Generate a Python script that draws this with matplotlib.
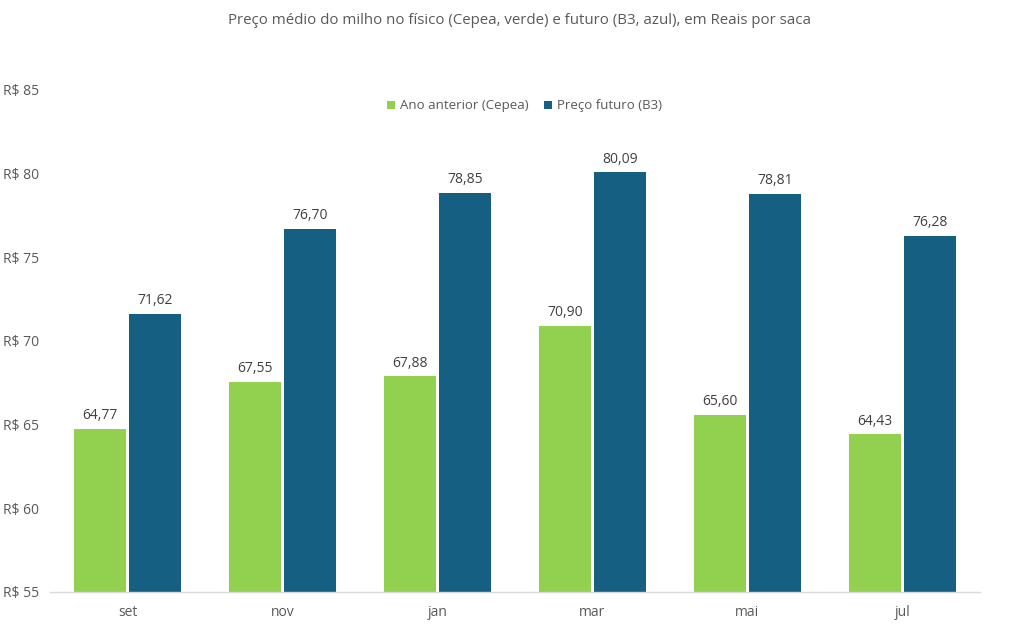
import matplotlib
matplotlib.use("Agg")
import matplotlib.pyplot as plt
import numpy as np

categories = ["set", "nov", "jan", "mar", "mai", "jul"]
cepea = [64.77, 67.55, 67.88, 70.90, 65.60, 64.43]
b3 = [71.62, 76.70, 78.85, 80.09, 78.81, 76.28]
yticks = [55, 60, 65, 70, 75, 80, 85]
series_names = ["Ano anterior (Cepea)", "Preço futuro (B3)"]
title = "Preço médio do milho no físico (Cepea, verde) e futuro (B3, azul), em Reais por saca"

plt.rcParams['font.family'] = ['Open Sans', 'DejaVu Sans']
text_color = "#595959"
green = "#92D050"
blue = "#156082"

fig = plt.figure(figsize=(10.11, 6.29), dpi=100)
ax = fig.add_axes([50/1011, 1-592/629, 930/1011, (592-90)/629])

x = np.arange(len(categories))
w = 0.33
off = 0.177
b1 = ax.bar(x - off, cepea, width=w, color=green, label=series_names[0])
b2 = ax.bar(x + off, b3, width=w, color=blue, label=series_names[1])

def fmt(v):
    return f"{v:.2f}".replace(".", ",")

for bars, vals in ((b1, cepea), (b2, b3)):
    for r, v in zip(bars, vals):
        ax.annotate(fmt(v), (r.get_x() + r.get_width()/2, v), xytext=(0, 4),
                    textcoords="offset points", ha="center", va="bottom",
                    fontsize=10, color="#404040")

ax.set_xlim(-0.5, len(categories) - 0.5)
ax.set_ylim(55, 85)
ax.set_yticks(yticks)
ax.set_yticklabels([f"R$ {t}" for t in yticks], ha="left")
ax.tick_params(axis="y", length=0, pad=34, labelsize=10, labelcolor=text_color)
ax.set_xticks(x)
ax.set_xticklabels(categories)
ax.tick_params(axis="x", length=0, pad=9, labelsize=10, labelcolor=text_color)
for s in ("top", "right", "left"):
    ax.spines[s].set_visible(False)
ax.spines["bottom"].set_color("#D9D9D9")
ax.spines["bottom"].set_linewidth(1.0)

leg = ax.legend(loc="upper center", bbox_to_anchor=(0.51, 1.005), ncol=2, frameon=False,
                fontsize=9.5, handlelength=0.6, handleheight=0.6, columnspacing=1.2,
                handletextpad=0.35)
for t in leg.get_texts():
    t.set_color(text_color)

fig.text(520/1011, 1-20/629, title, ha="center", va="center", fontsize=10.8, color=text_color)

fig.savefig("out.png", dpi=100, facecolor="white")
